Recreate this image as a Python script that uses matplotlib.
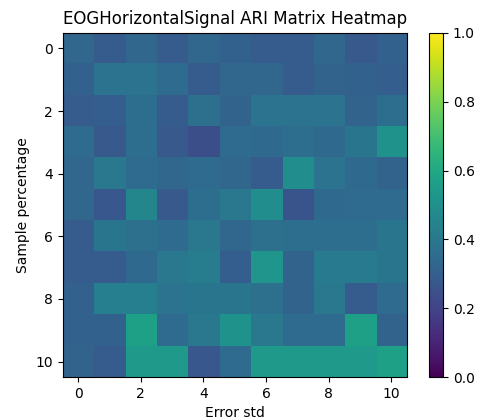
import matplotlib
matplotlib.use("Agg")
import matplotlib.pyplot as plt
import numpy as np

# ARI scores: rows = sample percentage index, columns = error std index
row0 = [0.33, 0.29, 0.33, 0.29, 0.33, 0.31, 0.29, 0.29, 0.33, 0.28, 0.31]
row1 = [0.31, 0.38, 0.38, 0.35, 0.29, 0.33, 0.33, 0.29, 0.32, 0.31, 0.30]
row2 = [0.29, 0.30, 0.36, 0.29, 0.37, 0.32, 0.38, 0.38, 0.38, 0.32, 0.36]
row3 = [0.35, 0.28, 0.36, 0.28, 0.24, 0.35, 0.34, 0.36, 0.34, 0.39, 0.51]
row4 = [0.33, 0.40, 0.35, 0.33, 0.35, 0.33, 0.29, 0.49, 0.38, 0.34, 0.32]
row5 = [0.33, 0.27, 0.46, 0.28, 0.36, 0.40, 0.49, 0.26, 0.34, 0.35, 0.35]
row6 = [0.29, 0.39, 0.37, 0.35, 0.40, 0.33, 0.37, 0.36, 0.36, 0.36, 0.39]
row7 = [0.29, 0.29, 0.34, 0.40, 0.42, 0.30, 0.52, 0.32, 0.41, 0.41, 0.39]
row8 = [0.31, 0.43, 0.43, 0.38, 0.39, 0.39, 0.37, 0.32, 0.40, 0.29, 0.35]
row9 = [0.31, 0.31, 0.57, 0.35, 0.40, 0.51, 0.40, 0.35, 0.35, 0.57, 0.32]
row10 = [0.32, 0.29, 0.54, 0.54, 0.27, 0.35, 0.54, 0.54, 0.54, 0.54, 0.57]

ari = np.array([row0, row1, row2, row3, row4, row5, row6, row7, row8, row9, row10])

fig = plt.figure(figsize=(4.8, 4.2), dpi=100)
ax = fig.add_axes([0.13, 0.102, 0.718, 0.82])
im = ax.imshow(ari, cmap="viridis", vmin=0, vmax=1)
ax.set_title("EOGHorizontalSignal ARI Matrix Heatmap")
ax.set_xlabel("Error std")
ax.set_ylabel("Sample percentage")

cax = fig.add_axes([0.893, 0.102, 0.03, 0.82])
fig.colorbar(im, cax=cax)

fig.savefig("out.png", dpi=100)
